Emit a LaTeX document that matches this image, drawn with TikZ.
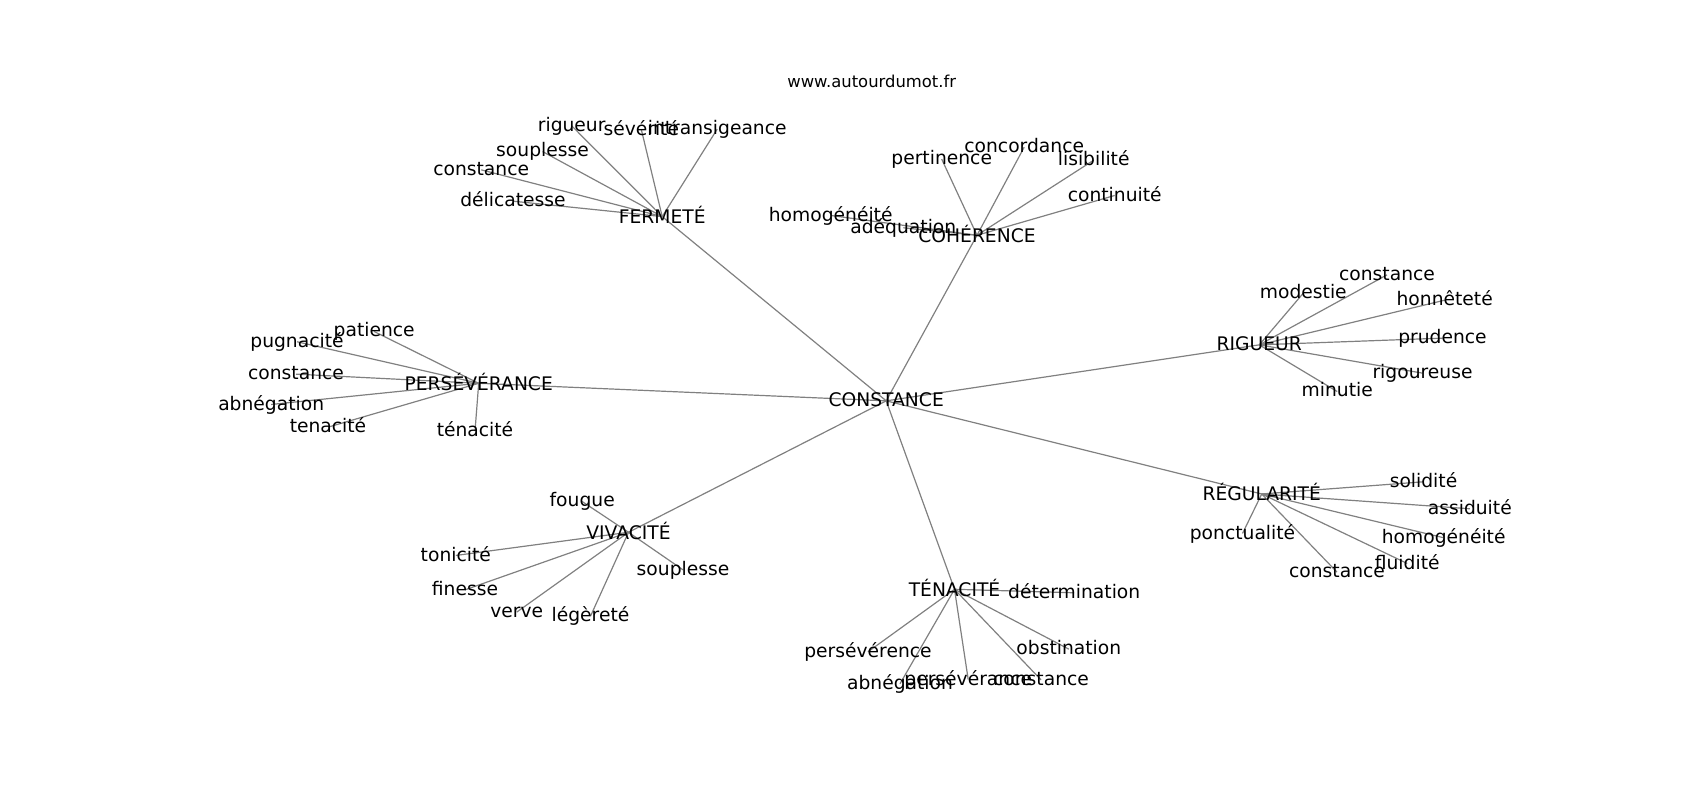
\documentclass[tikz,border=0pt]{standalone}
\usepackage{fontspec}
\setmainfont{DejaVu Sans}
\usetikzlibrary{backgrounds}
\definecolor{edgegray}{HTML}{808080}
\tikzset{
  lbl/.style={inner sep=0pt, anchor=base, text=black,
    font=\fontsize{18.7}{22}\selectfont, execute at begin node={\vphantom{lp}}},
  ttl/.style={inner sep=0pt, anchor=base, text=black,
    font=\fontsize{16.4}{20}\selectfont},
  lnk/.style={draw=edgegray, line width=1.2pt}
}
\begin{document}
\begin{tikzpicture}[x=1pt, y=-1pt]
\useasboundingbox (0,0) rectangle (1700,800);
\node[ttl] (title) at (871.7,87.3) {www.autourdumot.fr};
% centre
\node[lbl] (c) at (886.2,406) {CONSTANCE};
% FERMETE
\node[lbl] (f) at (662.2,223.3) {FERMETÉ};
\node[lbl] (f1) at (571.7,131) {rigueur};
\node[lbl] (f2) at (641.3,135) {sévérité};
\node[lbl] (f3) at (717.2,134.3) {intransigeance};
\node[lbl] (f4) at (542.5,156.7) {souplesse};
\node[lbl] (f5) at (481.2,175) {constance};
\node[lbl] (f6) at (513,206.7) {délicatesse};
% COHERENCE
\node[lbl] (h) at (977,242) {COHÉRENCE};
\node[lbl] (h1) at (1024.2,152.3) {concordance};
\node[lbl] (h2) at (941.7,164.3) {pertinence};
\node[lbl] (h3) at (1093.7,165.7) {lisibilité};
\node[lbl] (h4) at (1114.7,201) {continuité};
\node[lbl] (h5) at (830.7,221) {homogénéité};
\node[lbl] (h6) at (903.3,233.3) {adéquation};
% RIGUEUR
\node[lbl] (r) at (1259.3,350) {RIGUEUR};
\node[lbl] (r1) at (1387,280) {constance};
\node[lbl] (r2) at (1303.3,298.3) {modestie};
\node[lbl] (r3) at (1444.7,305.7) {honnêteté};
\node[lbl] (r4) at (1442.5,343.3) {prudence};
\node[lbl] (r5) at (1422.5,378.3) {rigoureuse};
\node[lbl] (r6) at (1337.2,396.7) {minutie};
% PERSEVERANCE
\node[lbl] (p) at (478.7,390) {PERSÉVÉRANCE};
\node[lbl] (p1) at (374.2,336.7) {patience};
\node[lbl] (p2) at (297,347.3) {pugnacité};
\node[lbl] (p3) at (296,379.3) {constance};
\node[lbl] (p4) at (271.2,410) {abnégation};
\node[lbl] (p5) at (328,432.7) {tenacité};
\node[lbl] (p6) at (475,436.7) {ténacité};
% VIVACITE
\node[lbl] (v) at (628.5,539) {VIVACITÉ};
\node[lbl] (v1) at (582.2,506.7) {fougue};
\node[lbl] (v2) at (455.8,561) {tonicité};
\node[lbl] (v3) at (683,575) {souplesse};
\node[lbl] (v4) at (465,595) {finesse};
\node[lbl] (v5) at (516.7,617.3) {verve};
\node[lbl] (v6) at (590.5,621.7) {légèreté};
% TENACITE
\node[lbl] (t) at (954.5,596) {TÉNACITÉ};
\node[lbl] (t1) at (1074.2,598.3) {détermination};
\node[lbl] (t2) at (868,657.3) {persévérence};
\node[lbl] (t3) at (1068.8,654.3) {obstination};
\node[lbl] (t4) at (900,689.3) {abnégation};
\node[lbl] (t5) at (968.2,685) {persévérance};
\node[lbl] (t6) at (1041,685) {constance};
% REGULARITE
\node[lbl] (g) at (1261.7,500.7) {RÉGULARITÉ};
\node[lbl] (g1) at (1423.5,487.3) {solidité};
\node[lbl] (g2) at (1469.8,514.3) {assiduité};
\node[lbl] (g3) at (1242.5,539) {ponctualité};
\node[lbl] (g4) at (1443.7,543.3) {homogénéité};
\node[lbl] (g5) at (1407.2,569) {fluidité};
\node[lbl] (g6) at (1337,577.3) {constance};
\begin{pgfonlayer}{background}
  \foreach \hub in {f,h,r,p,v,t,g}{
    \draw[lnk] (c.center) -- (\hub.center);
    \foreach \i in {1,...,6}{
      \draw[lnk] (\hub.center) -- (\hub\i.center);
    }
  }
\end{pgfonlayer}
\end{tikzpicture}
\end{document}
